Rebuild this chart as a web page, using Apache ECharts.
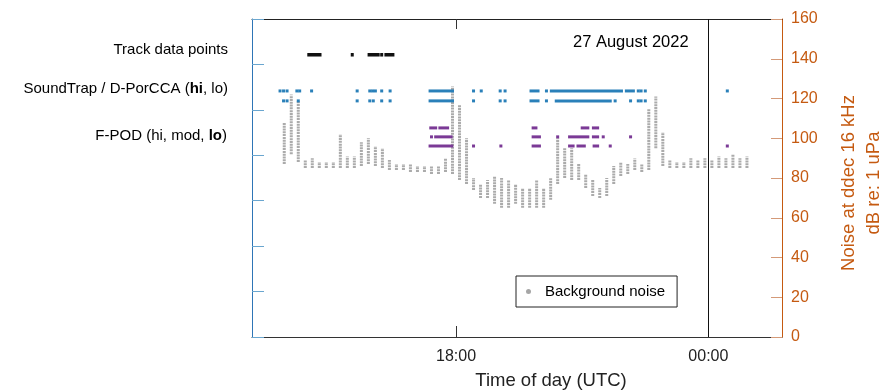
<!DOCTYPE html>
<html>
<head>
<meta charset="utf-8">
<script src="https://cdn.jsdelivr.net/npm/echarts@6/dist/echarts.min.js"></script>
<style>
  html, body { margin: 0; padding: 0; background: #fff; }
  #chart { width: 882px; height: 392px; }
</style>
</head>
<body>
<div id="chart"></div>
<script>
// background noise, one column every 10 min (dB re 1 uPa, low / high of the column)
const noiseTime = ['13:55','14:05','14:15','14:25','14:35','14:45','14:55','15:05','15:15','15:25',
  '15:35','15:45','15:55','16:05','16:15','16:25','16:35','16:45','16:55','17:05',
  '17:15','17:25','17:35','17:45','17:55','18:05','18:15','18:25','18:35','18:45',
  '18:55','19:05','19:15','19:25','19:35','19:45','19:55','20:05','20:15','20:25',
  '20:35','20:45','20:55','21:05','21:15','21:25','21:35','21:45','21:55','22:05',
  '22:15','22:25','22:35','22:45','22:55','23:05','23:15','23:25','23:35','23:45',
  '23:55','00:05','00:15','00:25','00:35','00:45','00:55'];
const noiseHigh = [108,122,119,89,90,88,88,88,102,91,
  91,98,100,96,95,89,87,87,87,86,
  86,86,86,90,126,117,100,80,77,79,
  81,80,79,77,75,75,79,75,80,100,
  95,95,87,82,79,75,80,86,88,87,
  90,87,115,121,103,89,88,88,90,89,
  90,89,91,90,92,90,91];
const noiseLow = [87,92,88,85,85,85,85,85,85,85,
  85,86,87,86,85,84,84,84,83,83,
  83,82,82,83,82,79,77,74,70,70,
  67,65,65,67,65,65,65,65,69,77,
  80,79,79,75,71,70,71,77,81,82,
  84,83,84,95,86,85,85,85,85,85,
  85,85,85,85,85,85,85];

// detections: start / end of each run
const trackStart = ['14:30','15:32','15:56','16:14','16:20'];
const trackEnd   = ['14:46','15:32','16:09','16:14','16:30'];

const stHiStart = ['13:49','13:54','13:59','14:13','14:17','14:34','15:39','15:57','16:01','16:05','16:14','16:26',
  '17:23','18:25','18:36','19:03','19:10','19:47','20:09','20:16','22:03','22:20','22:24','22:30','00:27'];
const stHiEnd   = ['13:49','13:54','13:59','14:13','14:17','14:34','15:39','15:57','16:01','16:05','16:14','16:26',
  '17:55','18:25','18:36','19:03','19:10','19:57','20:09','21:56','22:13','22:20','22:24','22:30','00:27'];

const stLoStart = ['13:54','13:59','14:15','15:39','15:57','16:02','16:14','16:26','17:23','18:25',
  '19:03','19:10','19:47','20:09','20:23','21:47','22:09','22:20','22:24','22:30'];
const stLoEnd   = ['13:54','13:59','14:15','15:39','15:57','16:02','16:14','16:26','17:55','18:25',
  '19:03','19:10','19:57','20:09','21:40','21:47','22:09','22:20','22:24','22:30'];

const fpHiStart = ['17:24','17:37','19:50','21:00','21:16'];
const fpHiEnd   = ['17:31','17:48','19:54','21:08','21:22'];

const fpModStart = ['17:25','17:31','19:50','20:25','20:42','21:16','21:30','22:09'];
const fpModEnd   = ['17:25','17:53','19:59','20:25','21:08','21:22','21:30','22:09'];

const fpLoStart = ['17:23','18:25','19:04','19:50','20:42','20:54','21:17','21:40','00:27'];
const fpLoEnd   = ['17:54','18:25','19:04','19:59','20:47','21:03','21:22','21:40','00:27'];

// row levels on the dB axis
const trackLevel = 142;
const stHiLevel = 123.8;
const stLoLevel = 118.8;
const fpHiLevel = 105.2;
const fpModLevel = 100.7;
const fpLoLevel = 96.1;

const tickHours = [18, 24];

const FONT = "'Liberation Sans', Arial, sans-serif";
const ORANGE = '#c55a11';
const BLUE = '#2e75b6';

function toHour(s) {
  const p = s.split(':');
  let v = Number(p[0]) + Number(p[1]) / 60;
  if (v < 12) v += 24;
  return v;
}

function runSeries(name, starts, ends, level, color, h) {
  return {
    name: name,
    type: 'custom',
    yAxisIndex: 0,
    silent: true,
    encode: {x: [0, 1], y: 2},
    data: starts.map((s, i) => [toHour(s), toHour(ends[i]), level]),
    renderItem: function (params, api) {
      const a = api.coord([api.value(0), api.value(2)]);
      const b = api.coord([api.value(1), api.value(2)]);
      return {
        type: 'rect',
        shape: {x: a[0] - 1.5, y: a[1] - h / 2, width: b[0] - a[0] + 3, height: h},
        style: {fill: color}
      };
    }
  };
}

const chart = echarts.init(document.getElementById('chart'));

const option = {
  animation: false,
  textStyle: {fontFamily: FONT},
  grid: {left: 252, right: 100, top: 19, bottom: 55},
  legend: {
    left: 516,
    top: 276,
    orient: 'vertical',
    borderColor: '#222',
    borderWidth: 1,
    borderRadius: 0,
    padding: [8, 12, 8, 10],
    itemWidth: 5,
    itemHeight: 5,
    textStyle: {fontSize: 15, color: '#000', fontFamily: FONT, padding: [0, 0, 0, 9]},
    data: [{name: 'Background noise', icon: 'circle', itemStyle: {color: '#a6a6a6'}}]
  },
  xAxis: [
    {
      type: 'value',
      position: 'bottom',
      min: 13.15,
      max: 25.75,
      axisLine: {onZero: false, lineStyle: {color: '#333', width: 1}},
      axisTick: {inside: true, length: 11, customValues: tickHours, lineStyle: {color: '#333'}},
      axisLabel: {
        customValues: tickHours,
        fontSize: 16,
        color: '#222',
        margin: 12,
        formatter: v => String(v % 24).padStart(2, '0') + ':00'
      },
      splitLine: {show: false}
    },
    {
      type: 'value',
      position: 'top',
      min: 13.15,
      max: 25.75,
      axisLine: {onZero: false, lineStyle: {color: '#222', width: 1}},
      axisTick: {inside: true, length: 10, customValues: tickHours, lineStyle: {color: '#333'}},
      axisLabel: {show: false},
      splitLine: {show: false}
    }
  ],
  yAxis: [
    {
      type: 'value',
      position: 'right',
      min: 0,
      max: 160,
      interval: 20,
      axisLine: {show: true, onZero: false, lineStyle: {color: ORANGE, width: 1}},
      axisTick: {show: true, inside: true, length: 11, lineStyle: {color: '#d49a78'}},
      axisLabel: {color: ORANGE, fontSize: 16, margin: 9},
      splitLine: {show: false}
    },
    {
      type: 'value',
      position: 'left',
      min: 0,
      max: 7,
      interval: 1,
      axisLine: {show: true, onZero: false, lineStyle: {color: BLUE, width: 1}},
      axisTick: {show: true, inside: true, length: 12, lineStyle: {color: '#6aa6cf'}},
      axisLabel: {show: false},
      splitLine: {show: false}
    }
  ],
  series: [
    {
      name: 'Background noise',
      type: 'custom',
      yAxisIndex: 0,
      silent: true,
      itemStyle: {color: '#a6a6a6'},
      encode: {x: 0, y: [1, 2]},
      data: noiseTime.map((t, i) => [toHour(t), noiseLow[i], noiseHigh[i]]),
      renderItem: function (params, api) {
        const p1 = api.coord([api.value(0), api.value(1)]);
        const p2 = api.coord([api.value(0), api.value(2)]);
        return {
          type: 'line',
          shape: {x1: p1[0], y1: p1[1], x2: p2[0], y2: p2[1]},
          style: {stroke: '#ababab', lineWidth: 3, lineDash: [2, 0.8]}
        };
      }
    },
    {
      name: 'day',
      type: 'line',
      data: [],
      markLine: {
        silent: true,
        symbol: 'none',
        label: {show: false},
        lineStyle: {color: '#111', width: 1, type: 'solid'},
        data: [{xAxis: 24}]
      }
    },
    runSeries('Track', trackStart, trackEnd, trackLevel, '#111', 3.5),
    runSeries('ST hi', stHiStart, stHiEnd, stHiLevel, '#2a80b9', 3),
    runSeries('ST lo', stLoStart, stLoEnd, stLoLevel, '#2a80b9', 3),
    runSeries('FPOD hi', fpHiStart, fpHiEnd, fpHiLevel, '#7b3a96', 3),
    runSeries('FPOD mod', fpModStart, fpModEnd, fpModLevel, '#7b3a96', 3),
    runSeries('FPOD lo', fpLoStart, fpLoEnd, fpLoLevel, '#7b3a96', 3)
  ],
  graphic: [
    {
      type: 'text', x: 228, y: 50,
      style: {text: 'Track data points', fontSize: 15, fontFamily: FONT, fill: '#000',
        textAlign: 'right', textVerticalAlign: 'middle'}
    },
    {
      type: 'text', x: 228, y: 89,
      style: {
        text: '{n|SoundTrap / D-PorCCA (}{b|hi}{n|, lo)}',
        textAlign: 'right', textVerticalAlign: 'middle',
        rich: {
          n: {fontSize: 15, fontFamily: FONT, fill: '#000'},
          b: {fontSize: 15, fontFamily: FONT, fill: '#000', fontWeight: 'bold'}
        }
      }
    },
    {
      type: 'text', x: 227, y: 136,
      style: {
        text: '{n|F-POD (hi, mod, }{b|lo}{n|)}',
        textAlign: 'right', textVerticalAlign: 'middle',
        rich: {
          n: {fontSize: 15, fontFamily: FONT, fill: '#000'},
          b: {fontSize: 15, fontFamily: FONT, fill: '#000', fontWeight: 'bold'}
        }
      }
    },
    {
      type: 'text', x: 573, y: 42,
      style: {text: '27 August 2022', fontSize: 16.5, fontFamily: FONT, fill: '#000',
        textAlign: 'left', textVerticalAlign: 'middle'}
    },
    {
      type: 'text', x: 551, y: 381,
      style: {text: 'Time of day (UTC)', fontSize: 18.5, fontFamily: FONT, fill: '#222',
        textAlign: 'center', textVerticalAlign: 'middle'}
    },
    {
      type: 'text', x: 861, y: 183, rotation: Math.PI / 2,
      style: {text: 'Noise at ddec 16 kHz\ndB re: 1 uPa', fontSize: 18.5, fontFamily: FONT,
        fill: ORANGE, textAlign: 'center', textVerticalAlign: 'middle', lineHeight: 25}
    }
  ]
};

chart.setOption(option);
</script>
</body>
</html>
